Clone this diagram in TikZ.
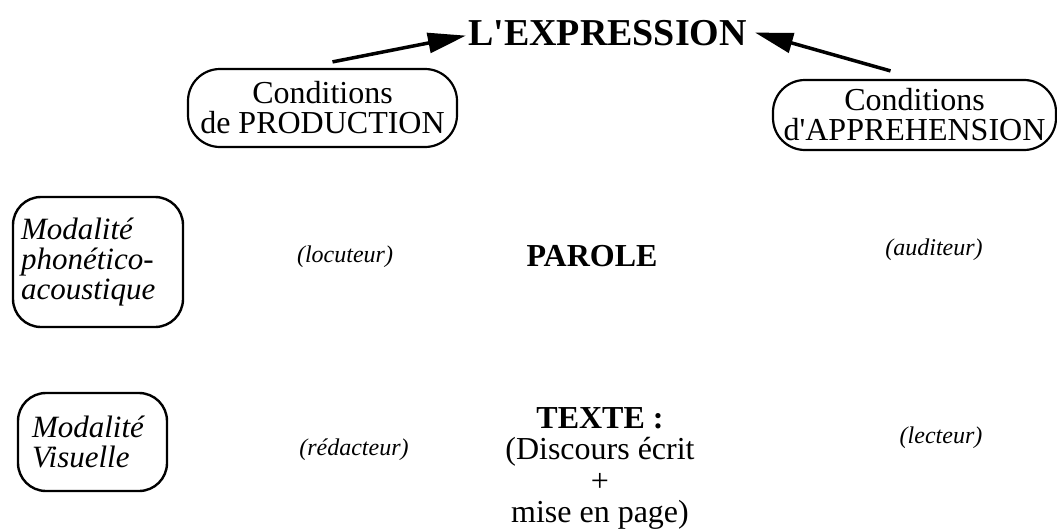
\documentclass[tikz,border=0pt]{standalone}
\usepackage{fontspec}
\setmainfont{Liberation Serif}
\usepackage{xcolor}
\usepackage{tikz}
\usetikzlibrary{arrows.meta}

\tikzset{%
  condbox/.style={draw, line width=2.2pt, rounded corners=32pt, align=center, inner sep=0pt, font=\fontsize{32pt}{30pt}\selectfont},%
  modbox/.style={draw, line width=2.4pt, rounded corners=28pt, align=left, inner ysep=0pt, font=\itshape\fontsize{31pt}{30pt}\selectfont},%
  rolelabel/.style={inner sep=0pt, font=\itshape\fontsize{24pt}{28pt}\selectfont},%
  bigarrow/.style={line width=3.5pt, -{Triangle[length=38pt, width=20pt]}}%
}

\begin{document}
\begin{tikzpicture}[x=1pt, y=-1pt]%
\useasboundingbox (0, 0) rectangle (1057, 530);%
\node[inner sep=0pt, anchor=base, font=\bfseries\fontsize{38pt}{40pt}\selectfont] (expr) at (607.5, 45) {L\textquotesingle EXPRESSION};%
\node[condbox, minimum width=269pt, minimum height=78pt] (prodcond) at (322.5, 108) {Conditions\\de PRODUCTION};%
\node[condbox, minimum width=283pt, minimum height=70pt] (apprcond) at (914.5, 115) {Conditions\\d\textquotesingle APPREHENSION};%
\node[modbox, text width=154pt, inner xsep=8pt, minimum height=130pt] (modphon) at (98, 262) {Modalité\\phonético-\\acoustique};%
\node[modbox, text width=121pt, inner xsep=14pt, minimum height=98pt] (modvis) at (92.5, 442) {Modalité\\Visuelle};%
\node[rolelabel] (locut) at (345, 257) {(locuteur)};%
\node[rolelabel] (redact) at (354, 450) {(rédacteur)};%
\node[rolelabel] (audit) at (934, 250) {(auditeur)};%
\node[rolelabel] (lect) at (941, 438) {(lecteur)};%
\node[inner sep=0pt, font=\bfseries\fontsize{32pt}{30pt}\selectfont] (parole) at (592, 256) {PAROLE};%
\node[inner sep=0pt, anchor=north, align=center, font=\fontsize{32pt}{31.5pt}\selectfont] (texte) at (600, 407) {\textbf{TEXTE :}\\(Discours écrit\\+\\mise en page)};%
% arrows up to the title
\draw[bigarrow] ([xshift=10pt, yshift=6pt]prodcond.north) -- ([xshift=-2pt, yshift=-3pt]expr.west);%
\draw[bigarrow] ([xshift=-24pt, yshift=8pt]apprcond.north) -- ([xshift=8pt]expr.east);%
\end{tikzpicture}
\end{document}
